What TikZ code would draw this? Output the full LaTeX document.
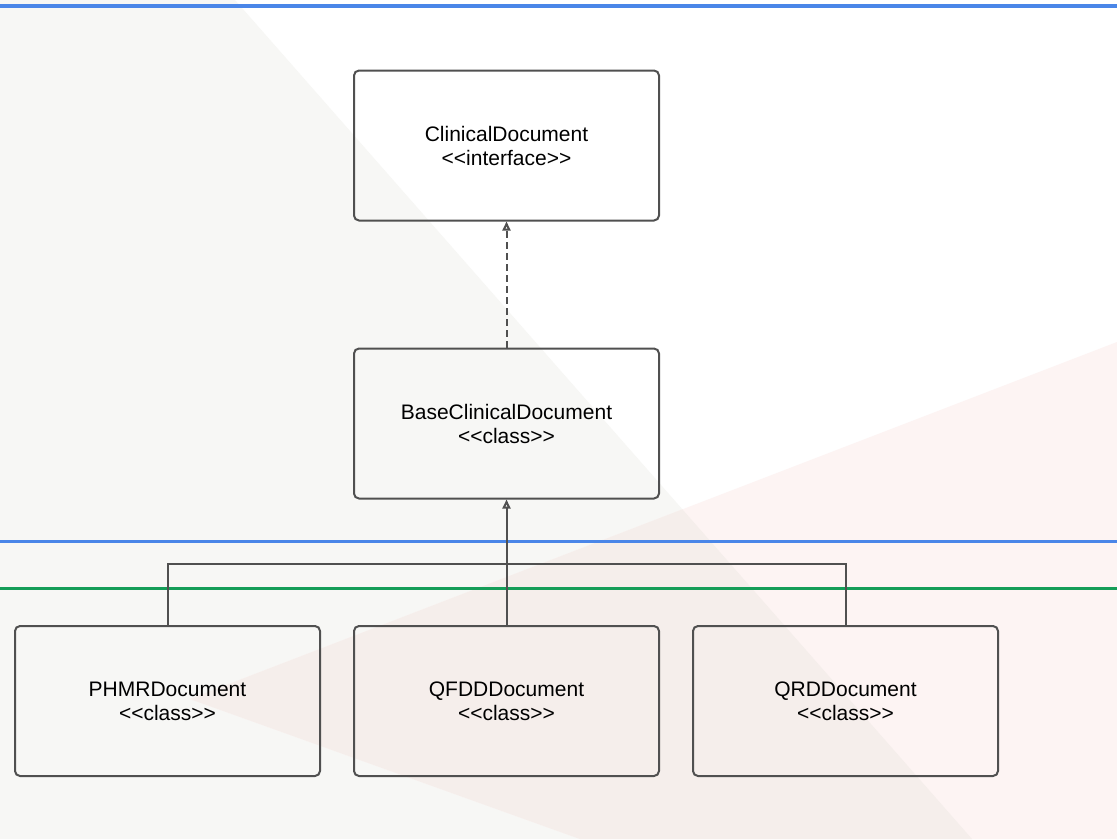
\documentclass[tikz,border=0pt]{standalone}
\usepackage{fontspec}
\setmainfont{Liberation Sans}
\usetikzlibrary{arrows.meta}

\definecolor{edgegrey}{RGB}{80,80,80}
\definecolor{shadegrey}{RGB}{247,247,245}
\definecolor{shadepink}{RGB}{253,244,243}
\definecolor{shadeboth}{RGB}{245,238,235}
\definecolor{laneblue}{RGB}{74,134,232}
\definecolor{lanegreen}{RGB}{21,157,88}

\tikzset{
  umlbox/.style={draw=edgegrey, line width=2pt, rounded corners=5pt,
    minimum width=305pt, minimum height=150pt, align=center,
    font=\fontsize{21}{24}\selectfont},
  realize/.style={draw=edgegrey, line width=2pt,
    -{Triangle[open, length=9pt, width=8pt]}},
  lane/.style={line width=3.5pt}
}

\begin{document}
\begin{tikzpicture}[x=1pt, y=-1pt]
  \useasboundingbox (0,0) rectangle (1117,839);
  \fill[white] (0,0) rectangle (1117,839);

  % shaded backdrop
  \fill[shadegrey] (0,0) -- (235,0) -- (972,839) -- (0,839) -- cycle;
  \fill[shadepink] (190,699) -- (1117,342) -- (1117,839) -- (580,839) -- cycle;
  \begin{scope}
    \clip (0,0) -- (235,0) -- (972,839) -- (0,839) -- cycle;
    \fill[shadeboth] (190,699) -- (1117,342) -- (1117,839) -- (580,839) -- cycle;
  \end{scope}

  % lanes
  \draw[lane, laneblue] (0,6) -- (1117,6);
  \draw[lane, laneblue] (0,541.5) -- (1117,541.5);
  \draw[lane, lanegreen] (0,588.3) -- (1117,588.3);

  \node[umlbox] (CD) at (506.5,145.5) {ClinicalDocument\\{<}{<}interface{>}{>}};
  \node[umlbox] (BCD) at (506.5,423.5) {BaseClinicalDocument\\{<}{<}class{>}{>}};

  \node[umlbox] (PHMR) at (167.5,701) {PHMRDocument\\{<}{<}class{>}{>}};
  \node[umlbox] (QFDD) at (506.5,701) {QFDDDocument\\{<}{<}class{>}{>}};
  \node[umlbox] (QRD) at (845.5,701) {QRDDocument\\{<}{<}class{>}{>}};

  \draw[realize, dash pattern=on 7pt off 4pt] (BCD.north) -- (CD.south);

  \coordinate (J) at (506.5,564);
  \draw[draw=edgegrey, line width=2pt] (PHMR.north) |- (J) -| (QRD.north);
  \draw[realize] (QFDD.north) -- (BCD.south);
\end{tikzpicture}
\end{document}
